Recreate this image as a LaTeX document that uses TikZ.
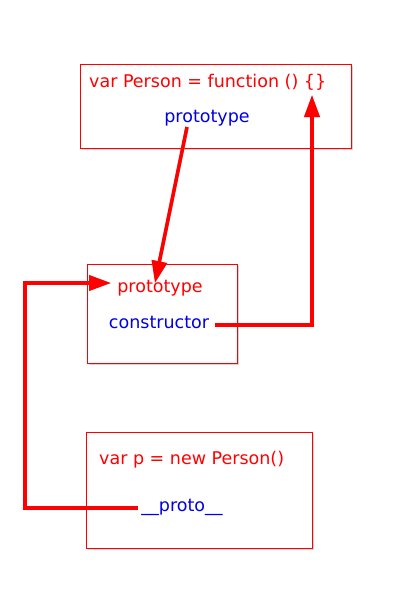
\documentclass[tikz,border=0pt]{standalone}
\usepackage{fontspec}
\setmainfont{DejaVu Sans}
\usetikzlibrary{arrows.meta,shadows}
\definecolor{cred}{RGB}{255,0,0}
\definecolor{cblue}{RGB}{0,0,230}
\tikzset{
  box/.style={draw=cred, line width=0.8pt, fill=white, inner sep=0pt, anchor=north west, drop shadow={opacity=0.35, shadow xshift=2pt, shadow yshift=-2pt}},
  rtxt/.style={text=cred, font=\fontsize{17.5}{20}\selectfont, inner sep=0pt},
  btxt/.style={text=cblue, font=\fontsize{17.5}{20}\selectfont, inner sep=0pt},
  link/.style={draw=cred, line width=3.5pt, -{Triangle[length=22pt,width=15pt]}},
  shad/.style={draw=black!35, line width=3.5pt, -{Triangle[length=22pt,width=15pt]}}
}
\begin{document}
\begin{tikzpicture}[x=1pt,y=-1pt]
\useasboundingbox (0,0) rectangle (416,600);
% boxes
\node[box, minimum width=271pt, minimum height=84pt] (b1) at (80,64) {};
\node[box, minimum width=150pt, minimum height=99pt] (b2) at (87,264) {};
\node[box, minimum width=226pt, minimum height=116pt] (b3) at (86,432) {};
% texts
\node[rtxt, anchor=west] (fn) at (89,82) {var Person = function () \{\}};
\node[btxt] (p1) at (207,118) {prototype};
\node[rtxt] (p2) at (160,288) {prototype};
\node[btxt] (ctor) at (159,322) {constructor};
\node[rtxt, anchor=west] (np) at (99,460) {var p = new Person()};
\node[btxt] (proto) at (182,507) {\_\_proto\_\_};
% coordinates
\coordinate (s1) at (187,127);
\coordinate (t1) at (155,283);
\coordinate (s2) at (215,325);
\coordinate (c1) at (312,325);
\coordinate (t2) at (312,95);
\coordinate (s3) at (138,508);
\coordinate (c2) at (25,508);
\coordinate (c3) at (25,283);
\coordinate (t3) at (111,283);
% shadows of connectors
\begin{scope}[xshift=2.5pt, yshift=-2.5pt]
\draw[shad] (s1) -- (t1);
\draw[shad] (s2) -- (c1) -- (t2);
\draw[shad] (s3) -- (c2) -- (c3) -- (t3);
\end{scope}
% connectors
\draw[link] (s1) -- (t1);
\draw[link] (s2) -- (c1) -- (t2);
\draw[link] (s3) -- (c2) -- (c3) -- (t3);
\end{tikzpicture}
\end{document}
